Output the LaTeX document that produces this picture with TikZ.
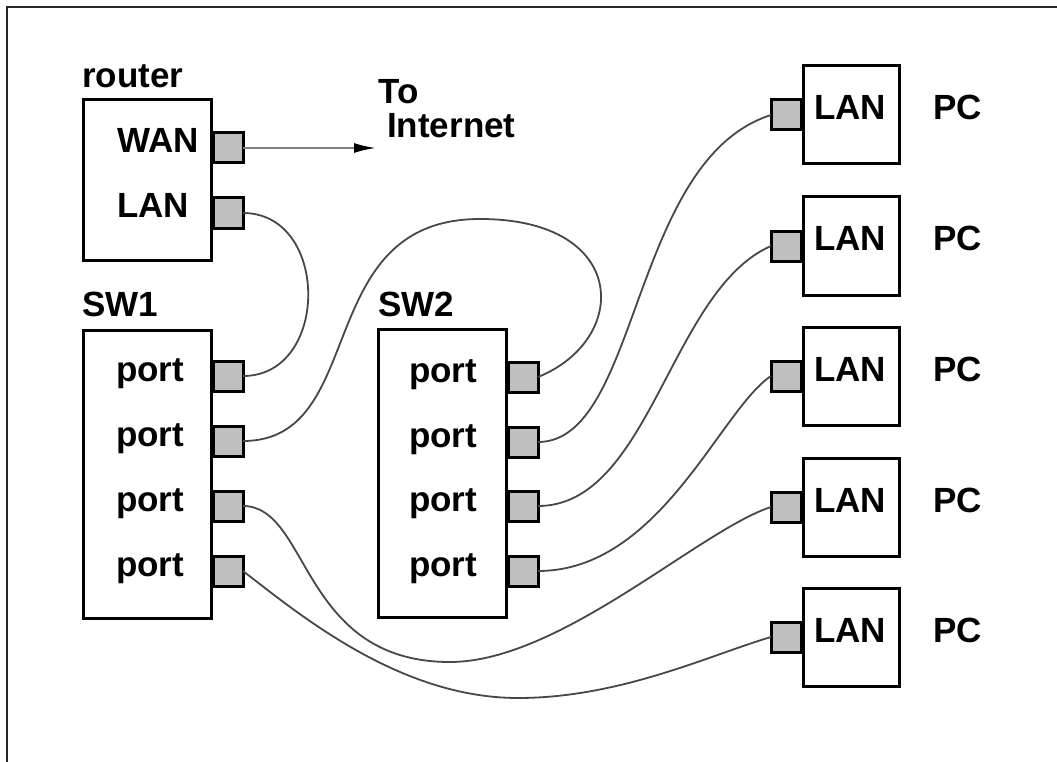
\documentclass[tikz,border=0pt]{standalone}
\usepackage{fontspec}
\setmainfont{Liberation Sans}
\usetikzlibrary{arrows.meta}

\begin{document}
\begin{tikzpicture}[
  x=1pt, y=-1pt,
  font=\fontsize{35}{30}\selectfont\bfseries,
  box/.style={
    draw=black,
    line width=3pt,
    fill=white,
    outer sep=0pt,
    inner sep=0pt,
    anchor=north west
  },
  unit/.style={box, minimum width=128pt, minimum height=288pt},
  pcbox/.style={box, anchor=center, minimum width=96pt, minimum height=98pt},
  jack/.style={draw=black, line width=3pt, fill=black!25, outer sep=0pt, inner sep=0pt, minimum size=30pt},
  txt/.style={anchor=base west, inner sep=0pt},
  cable/.style={draw=black!72, line width=1.8pt},
  arrow/.style={-{Latex[length=22pt, width=10pt, color=black]}, line width=2pt, draw=black!50}
]
\useasboundingbox (0,0) rectangle (1057,762);

% page frame (only top and left edge inside the page)
\coordinate (fbl) at (7,770);
\coordinate (ftl) at (7,7);
\coordinate (ftr) at (1070,7);
\draw[line width=2pt, black!85] (fbl) -- (ftl) -- (ftr);

% devices
\node[box, minimum width=128pt, minimum height=160pt] (router) at (83,100) {};
\node[unit] (sw1) at (83,330) {};
\node[unit] (sw2) at (378,329) {};

\node[pcbox] (pc1) at (851,115) {};
\node[pcbox] (pc2) at (851,246) {};
\node[pcbox] (pc3) at (851,376) {};
\node[pcbox] (pc4) at (851,507) {};
\node[pcbox] (pc5) at (851,637) {};

% jacks
\node[jack] (wan) at (228,148) {};
\node[jack] (lan) at (228,213) {};

\node[jack] (sw1p1) at (228,376) {};
\node[jack] (sw1p2) at (228,441) {};
\node[jack] (sw1p3) at (228,506) {};
\node[jack] (sw1p4) at (228,571) {};

\node[jack] (sw2p1) at (523,377) {};
\node[jack] (sw2p2) at (523,442) {};
\node[jack] (sw2p3) at (523,506) {};
\node[jack] (sw2p4) at (523,571) {};

\node[jack] (pc1jack) at (786,115) {};
\node[jack] (pc2jack) at (786,246) {};
\node[jack] (pc3jack) at (786,376) {};
\node[jack] (pc4jack) at (786,507) {};
\node[jack] (pc5jack) at (786,637) {};

% uplink to the internet
\coordinate (net) at (376,148);
\draw[arrow] (wan.east) -- (net);

% cables
\draw[cable] (lan.east) .. controls (330,213) and (330,376) .. (sw1p1.east);
\draw[cable] (sw1p2.east) .. controls (370,441) and (310,219) .. (480,219)
  .. controls (630,219) and (630,340) .. (sw2p1.east);
\draw[cable] (sw2p2.east) .. controls (640,442) and (630,160) .. (pc1jack.west);
\draw[cable] (sw2p3.east) .. controls (650,506) and (670,290) .. (pc2jack.west);
\draw[cable] (sw2p4.east) .. controls (660,571) and (720,410) .. (pc3jack.west);
\draw[cable] (sw1p3.east) .. controls (310,506) and (300,662) .. (450,662)
  .. controls (560,662) and (700,530) .. (pc4jack.west);
\draw[cable] (sw1p4.east) .. controls (300,615) and (400,698) .. (518,698)
  .. controls (620,698) and (710,655) .. (pc5jack.west);

% labels
\node[txt] (routertxt) at (82,88) {router};
\node[txt] (sw1txt) at (82,316) {SW1};
\node[txt] (sw2txt) at (378,316) {SW2};
\node[txt, anchor=north west, align=left] (nettxt) at (378,79) {To\\[4pt]\hspace*{9pt}Internet};

\node[txt] (wantxt) at (117,153) {WAN};
\node[txt] (lantxt) at (117,218) {LAN};

\node[txt] (sw1t1) at (116,381) {port};
\node[txt] (sw1t2) at (116,446) {port};
\node[txt] (sw1t3) at (116,511) {port};
\node[txt] (sw1t4) at (116,576) {port};

\node[txt] (sw2t1) at (409,382) {port};
\node[txt] (sw2t2) at (409,447) {port};
\node[txt] (sw2t3) at (409,511) {port};
\node[txt] (sw2t4) at (409,576) {port};

\node[txt] (pc1lan) at (814,120) {LAN};
\node[txt] (pc2lan) at (814,251) {LAN};
\node[txt] (pc3lan) at (814,381) {LAN};
\node[txt] (pc4lan) at (814,512) {LAN};
\node[txt] (pc5lan) at (814,642) {LAN};

\node[txt] (pc1txt) at (933,120) {PC};
\node[txt] (pc2txt) at (933,251) {PC};
\node[txt] (pc3txt) at (933,381) {PC};
\node[txt] (pc4txt) at (933,512) {PC};
\node[txt] (pc5txt) at (933,642) {PC};

\end{tikzpicture}
\end{document}
